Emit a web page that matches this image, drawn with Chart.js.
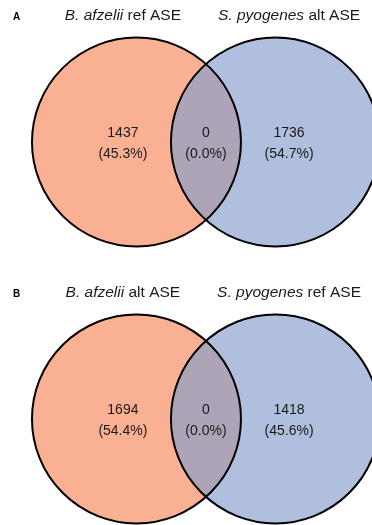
<!DOCTYPE html>
<html>
<head>
<meta charset="utf-8">
<script src="https://cdn.jsdelivr.net/npm/chart.js@4.4.1/dist/chart.umd.min.js"></script>
<style>
  html, body { margin: 0; padding: 0; background: #fff; }
  #wrap { width: 372px; height: 525px; }
</style>
</head>
<body>
<div id="wrap"><canvas id="venn"></canvas></div>
<script>
// panels and set names
const panels = ['A', 'B'];
const leftSpecies = ['B. afzelii', 'B. afzelii'];
const leftAllele = ['ref ASE', 'alt ASE'];
const rightSpecies = ['S. pyogenes', 'S. pyogenes'];
const rightAllele = ['alt ASE', 'ref ASE'];

// region counts and percentages
const leftOnly = [1437, 1694];
const overlap = [0, 0];
const rightOnly = [1736, 1418];
const leftPct = [45.3, 54.4];
const overlapPct = [0.0, 0.0];
const rightPct = [54.7, 45.6];

// layout in circle-radius units
const centerGap = 1.33;
const panelY = [0, -2.65];

const fillColors = ['rgb(250,176,146)', 'rgba(133,158,204,0.66)'];
const FONT = "'Liberation Sans', Arial, sans-serif";

function makeCircles() {
    const out = [];
    panelY.forEach(y => {
        out.push({ x: 0, y: y, r: 1 });
        out.push({ x: centerGap, y: y, r: 1 });
    });
    return out;
}

const labelPlugin = {
    id: 'vennLabels',
    afterDatasetsDraw(chart) {
        const ctx = chart.ctx;
        const xs = chart.scales.x, ys = chart.scales.y;
        ctx.save();
        ctx.fillStyle = '#1a1a1a';
        ctx.textBaseline = 'middle';
        panels.forEach((p, i) => {
            const cy = panelY[i];
            // region labels
            const cols = [
                [-0.13, leftOnly[i], leftPct[i]],
                [centerGap / 2, overlap[i], overlapPct[i]],
                [1.46, rightOnly[i], rightPct[i]]
            ];
            ctx.font = '14px ' + FONT;
            ctx.textAlign = 'center';
            cols.forEach(c => {
                const px = xs.getPixelForValue(c[0]);
                const py = ys.getPixelForValue(cy);
                ctx.fillText(String(c[1]), px, py - 9);
                ctx.fillText('(' + c[2].toFixed(1) + '%)', px, py + 12);
            });

            // set titles: italic species + plain allele label
            const ty = ys.getPixelForValue(cy) - 126;
            drawTitle(ctx, leftSpecies[i], leftAllele[i], xs.getPixelForValue(-0.13), ty);
            drawTitle(ctx, rightSpecies[i], rightAllele[i], xs.getPixelForValue(1.46), ty);

            // panel letter
            ctx.font = 'bold 10px ' + FONT;
            ctx.textAlign = 'left';
            ctx.fillStyle = '#000';
            ctx.fillText(p, 13, ty + 1);
            ctx.fillStyle = '#1a1a1a';
        });
        ctx.restore();
    }
};

function drawTitle(ctx, italicPart, plainPart, cx, y) {
    const it = 'italic 15.5px ' + FONT;
    const pl = '15.5px ' + FONT;
    ctx.font = it;
    const w1 = ctx.measureText(italicPart + ' ').width;
    ctx.font = pl;
    const w2 = ctx.measureText(plainPart).width;
    let x = cx - (w1 + w2) / 2;
    ctx.textAlign = 'left';
    ctx.font = it;
    ctx.fillText(italicPart + ' ', x, y);
    ctx.font = pl;
    ctx.fillText(plainPart, x + w1, y);
}

const chart = new Chart(document.getElementById('venn'), {
    type: 'bubble',
    data: {
        datasets: [
            {
                // outlines on top
                data: makeCircles(),
                backgroundColor: 'rgba(0,0,0,0)',
                borderColor: '#000',
                borderWidth: 2,
                clip: false
            },
            {
                data: makeCircles(),
                backgroundColor: [0, 1, 2, 3].map(i => fillColors[i % 2]),
                borderColor: 'rgba(0,0,0,0)',
                borderWidth: 0,
                clip: false
            }
        ]
    },
    options: {
        responsive: true,
        maintainAspectRatio: false,
        animation: false,
        events: [],
        layout: { padding: 0, autoPadding: false },
        plugins: {
            legend: { display: false },
            tooltip: { enabled: false },
            title: { display: false }
        },
        scales: {
            x: { type: 'linear', min: -1.306, max: 2.254, display: false },
            y: { type: 'linear', min: -3.665, max: 1.359, display: false }
        }
    },
    plugins: [labelPlugin]
});

// circle radius = one data unit on the x scale, in pixels
const xs = chart.scales.x;
const rPx = xs.getPixelForValue(1) - xs.getPixelForValue(0);
chart.data.datasets.forEach(ds => ds.data.forEach(d => { d.r = rPx; }));
chart.update();
</script>
</body>
</html>
